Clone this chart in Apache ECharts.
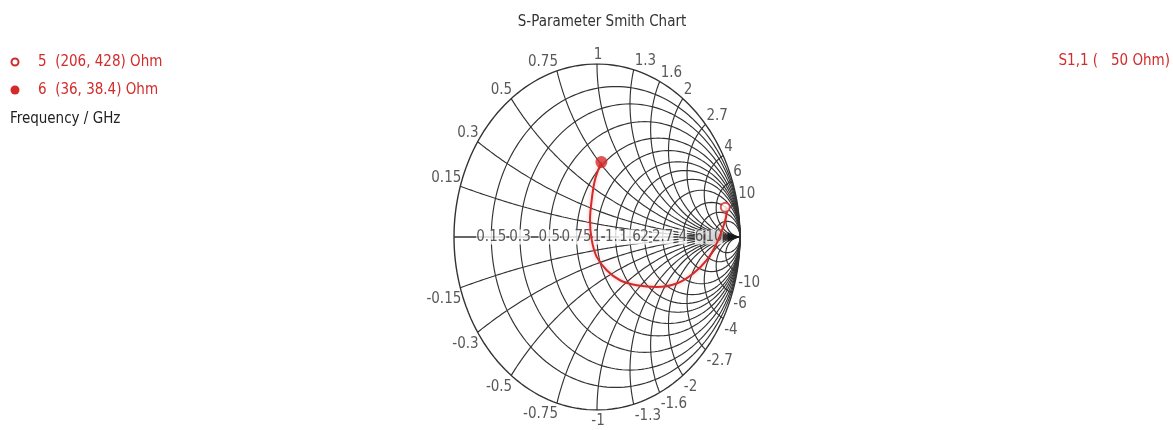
<!DOCTYPE html>
<html>
<head>
<meta charset="utf-8">
<script src="https://cdn.jsdelivr.net/npm/echarts@6/dist/echarts.min.js"></script>
<style>
  html, body { margin: 0; padding: 0; background: #fff; }
  #chart { width: 1173px; height: 430px; }
</style>
</head>
<body>
<div id="chart"></div>
<script>
// Reference impedance of the port
const Z0 = 50;

// Normalized values used for the resistance circles and reactance arcs
const gridValues = [0.15, 0.3, 0.5, 0.75, 1, 1.3, 1.6, 2, 2.7, 4, 6, 10];
const gridLabels = ['0.15', '0.3', '0.5', '0.75', '1', '1.3', '1.6', '2', '2.7', '4', '6', '10'];

// S1,1 trace between the two markers, as reflection coefficient (real, imaginary)
const traceRe = [-0.014, -0.037, -0.049, -0.037, -0.002, 0.068, 0.161, 0.278, 0.417, 0.557, 0.673, 0.767, 0.837, 0.883, 0.907];
const traceIm = [0.331, 0.215, 0.099, -0.017, -0.115, -0.192, -0.250, -0.279, -0.289, -0.269, -0.211, -0.134, -0.037, 0.060, 0.147];

// Markers: id, resistance and reactance in ohm
const markerIds = ['5', '6'];
const markerR = [206, 36];
const markerX = [428, 38.4];

const RED = '#d42a2a';
const GRID = '#333333';
const LABEL = '#2e2e2e';
const FONT = "'DejaVu Sans Condensed', 'Liberation Sans', sans-serif";

// reflection coefficient of a normalized impedance r + jx
function gamma(r, x) {
  const nr = r - 1, dr = r + 1;
  const d = dr * dr + x * x;
  return [(nr * dr + x * x) / d, (x * dr - nr * x) / d];
}

const series = [];
function gridLine(points, width) {
  series.push({
    type: 'line', data: points, symbol: 'none', silent: true, z: 1,
    lineStyle: { color: GRID, width: width || 1.15 }, animation: false
  });
}

// outer circle and resistance circles
[0].concat(gridValues).forEach(function (r) {
  const c = r / (1 + r), rad = 1 / (1 + r), pts = [];
  for (let i = 0; i <= 360; i += 2) {
    const a = i * Math.PI / 180;
    pts.push([c + rad * Math.cos(a), rad * Math.sin(a)]);
  }
  gridLine(pts, r === 0 ? 1.4 : 1.15);
});

// reactance arcs, from the outer circle to the open-circuit point
gridValues.forEach(function (x) {
  [x, -x].forEach(function (xv) {
    const pts = [];
    for (let i = 0; i < 300; i++) {
      const phi = i / 300 * Math.PI / 2;
      pts.push(gamma(Math.tan(phi), xv));
    }
    pts.push([1, 0]);
    gridLine(pts);
  });
});

// real axis with its arrow head
gridLine([[-1, 0], [0.97, 0]], 1.3);
series.push({
  type: 'scatter', silent: true, z: 3, animation: false,
  symbol: 'triangle', symbolSize: [10, 12], symbolRotate: -90,
  itemStyle: { color: '#111' },
  data: [[0.955, 0]]
});

// resistance labels on the real axis
series.push({
  type: 'scatter', silent: true, z: 4, animation: false, symbolSize: 0,
  data: gridValues.map(function (r, i) {
    return { value: gamma(r, 0), name: gridLabels[i] };
  }),
  label: {
    show: true, position: [0, 0], align: 'center', verticalAlign: 'middle',
    formatter: '{b}', color: LABEL, fontSize: 15, fontFamily: FONT,
    backgroundColor: '#fff', padding: [0, 0]
  }
});

// reactance labels around the outer circle
const reactLabels = [];
gridValues.forEach(function (x, i) {
  [1, -1].forEach(function (s) {
    const p = gamma(0, s * x);
    const align = p[0] < -0.05 ? 'right' : (p[0] > 0.05 ? 'left' : 'center');
    reactLabels.push({
      value: p,
      name: (s < 0 ? '-' : '') + gridLabels[i],
      label: {
        align: align,
        verticalAlign: s > 0 ? 'bottom' : 'top',
        offset: [1, s > 0 ? -1 : 4]
      }
    });
  });
});
series.push({
  type: 'scatter', silent: true, z: 4, animation: false, symbolSize: 0,
  data: reactLabels,
  label: {
    show: true, position: [0, 0], formatter: '{b}',
    color: LABEL, fontSize: 15, fontFamily: FONT
  }
});

// S1,1 trace and markers
const markerGamma = markerIds.map(function (id, i) {
  return gamma(markerR[i] / Z0, markerX[i] / Z0);
});
const trace = [markerGamma[1]]
  .concat(traceRe.map(function (v, i) { return [v, traceIm[i]]; }))
  .concat([markerGamma[0]]);

series.push({
  type: 'line', data: trace, symbol: 'none', smooth: 0.35, silent: true, z: 5,
  animation: false,
  lineStyle: { color: RED, width: 2, shadowColor: 'rgba(235,90,90,0.45)', shadowBlur: 4 }
});
series.push({
  type: 'scatter', silent: true, z: 6, animation: false,
  data: [
    { value: markerGamma[0], symbol: 'circle', symbolSize: 9,
      itemStyle: { color: '#fff', borderColor: RED, borderWidth: 2 } },
    { value: markerGamma[1], symbol: 'circle', symbolSize: 12,
      itemStyle: { color: RED } }
  ]
});

const legendText = markerIds.map(function (id, i) {
  return id + '  (' + markerR[i] + ', ' + markerX[i] + ') Ohm';
});

const chart = echarts.init(document.getElementById('chart'), null, { renderer: 'canvas' });
chart.setOption({
  backgroundColor: '#fff',
  animation: false,
  title: {
    text: 'S-Parameter Smith Chart', left: 597, top: 10, textAlign: 'center',
    textStyle: { color: '#333', fontSize: 15, fontWeight: 'normal', fontFamily: FONT }
  },
  grid: { left: 454, top: 64, width: 286, height: 346 },
  xAxis: { type: 'value', min: -1, max: 1, show: false },
  yAxis: { type: 'value', min: -1, max: 1, show: false },
  series: series,
  graphic: [
    { type: 'circle', shape: { cx: 15, cy: 62, r: 3.5 }, style: { fill: '#fff', stroke: RED, lineWidth: 2 } },
    { type: 'circle', shape: { cx: 15, cy: 90, r: 4.5 }, style: { fill: RED } },
    { type: 'text', x: 38, y: 62, style: { text: legendText[0], fill: RED, font: '15px ' + FONT, verticalAlign: 'middle', textVerticalAlign: 'middle' } },
    { type: 'text', x: 38, y: 90, style: { text: legendText[1], fill: RED, font: '15px ' + FONT, verticalAlign: 'middle', textVerticalAlign: 'middle' } },
    { type: 'text', x: 10, y: 119, style: { text: 'Frequency / GHz', fill: '#222', font: '15px ' + FONT, verticalAlign: 'middle', textVerticalAlign: 'middle' } },
    { type: 'text', x: 1170, y: 61, style: { text: 'S1,1 (   ' + Z0 + ' Ohm)', fill: RED, font: '15px ' + FONT, align: 'right', textAlign: 'right', verticalAlign: 'middle', textVerticalAlign: 'middle' } }
  ]
});
</script>
</body>
</html>
